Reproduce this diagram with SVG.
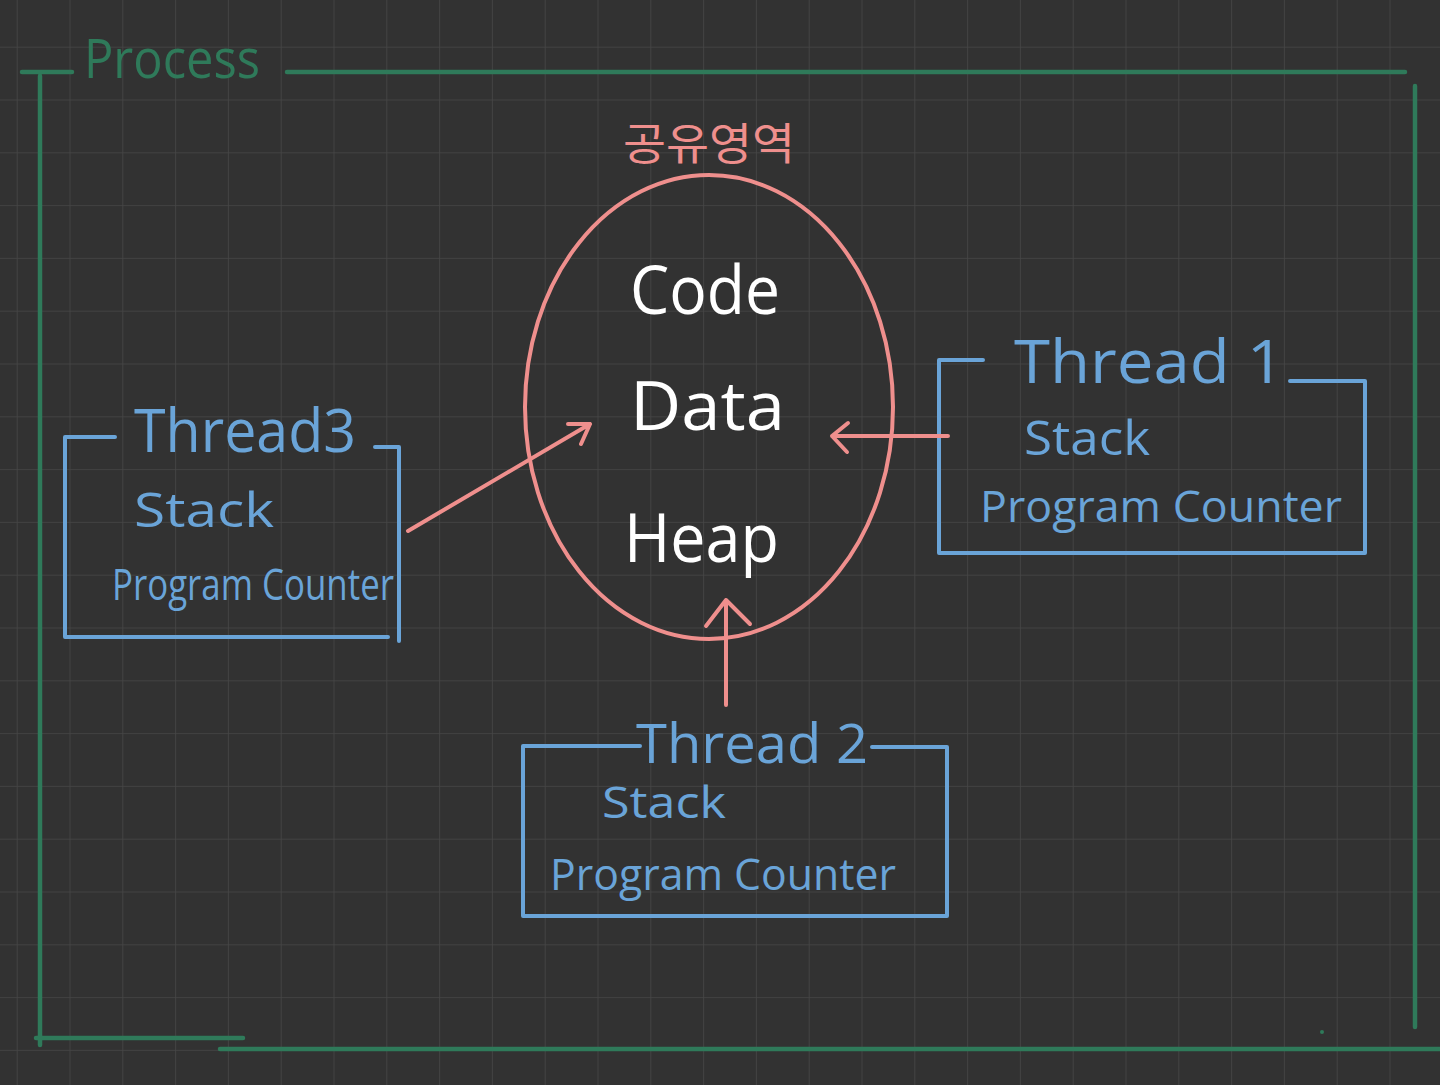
<svg xmlns="http://www.w3.org/2000/svg" width="1440" height="1085" viewBox="0 0 1440 1085">
<defs>
<pattern id="grid" x="16.7" y="46.7" width="52.8" height="52.8" patternUnits="userSpaceOnUse">
<path d="M0 0 H52.8 M0 0 V52.8" fill="none" stroke="#464646" stroke-width="1.6"/>
</pattern>
<style>
.g{fill:none;stroke:#2f7a5a;stroke-width:4.5;stroke-linecap:round}
.b{fill:none;stroke:#6aa4d8;stroke-width:4;stroke-linecap:round;stroke-linejoin:round}
.p{fill:none;stroke:#ef8f8d;stroke-width:4;stroke-linecap:round;stroke-linejoin:round}
.tb{fill:#6aa4d8;font-family:"Open Sans","Liberation Sans",sans-serif}
.tw{fill:#ffffff;font-family:"Open Sans","Liberation Sans",sans-serif}
</style>
</defs>
<rect width="1440" height="1085" fill="#323232"/>
<rect width="1440" height="1085" fill="url(#grid)"/>

<g id="process">
<path class="g" d="M22 72 H72 M287 72 H1405 M40 76 V1045 M36 1038 H243 M220 1049 H1440 M1415 86 V1027"/>
<circle cx="1322" cy="1032" r="2" fill="#2f7a5a"/>
<text x="84" y="78" fill="#2f7a5a" font-family="Open Sans, Liberation Sans, sans-serif" font-size="54" textLength="176" lengthAdjust="spacingAndGlyphs">Process</text>
</g>

<g id="shared">
<text x="623" y="160" fill="#ef8f8d" font-family="Noto Sans CJK KR, sans-serif" font-size="44" textLength="172" lengthAdjust="spacingAndGlyphs">공유영역</text>
<ellipse class="p" cx="709" cy="407" rx="184" ry="232"/>
<text class="tw" x="630" y="314" font-size="68" textLength="150" lengthAdjust="spacingAndGlyphs">Code</text>
<text class="tw" x="630" y="430" font-size="68" textLength="155" lengthAdjust="spacingAndGlyphs">Data</text>
<text class="tw" x="624" y="562" font-size="68" textLength="155" lengthAdjust="spacingAndGlyphs">Heap</text>
</g>

<g id="thread1">
<path class="b" d="M983 360 H939 V553 H1365 V381 H1290"/>
<text class="tb" x="1014" y="383" font-size="60" textLength="270" lengthAdjust="spacingAndGlyphs">Thread 1</text>
<text class="tb" x="1024" y="455" font-size="48" textLength="126" lengthAdjust="spacingAndGlyphs">Stack</text>
<text class="tb" x="980" y="522" font-size="44" textLength="362" lengthAdjust="spacingAndGlyphs">Program Counter</text>
</g>

<g id="thread3">
<path class="b" d="M115 437 H65 V637 H388 M375 447 H399 V641"/>
<text class="tb" x="134" y="452" font-size="60" textLength="222" lengthAdjust="spacingAndGlyphs">Thread3</text>
<text class="tb" x="134" y="527" font-size="48" textLength="140" lengthAdjust="spacingAndGlyphs">Stack</text>
<text class="tb" x="112" y="600" font-size="44" textLength="282" lengthAdjust="spacingAndGlyphs">Program Counter</text>
</g>

<g id="thread2">
<path class="b" d="M640 746 H523 V916 H947 V747 H872"/>
<text class="tb" x="636" y="763" font-size="54" textLength="232" lengthAdjust="spacingAndGlyphs">Thread 2</text>
<text class="tb" x="602" y="818" font-size="44" textLength="124" lengthAdjust="spacingAndGlyphs">Stack</text>
<text class="tb" x="550" y="890" font-size="44" textLength="346" lengthAdjust="spacingAndGlyphs">Program Counter</text>
</g>

<g id="connectors">
<path class="p" d="M948 436 H832 M848 423 L832 436 L847 452"/>
<path class="p" d="M408 531 L590 424 M568 424 L590 424 L581 444"/>
<path class="p" d="M726 705 V600 M706 626 L726 600 L750 624"/>
</g>
</svg>
